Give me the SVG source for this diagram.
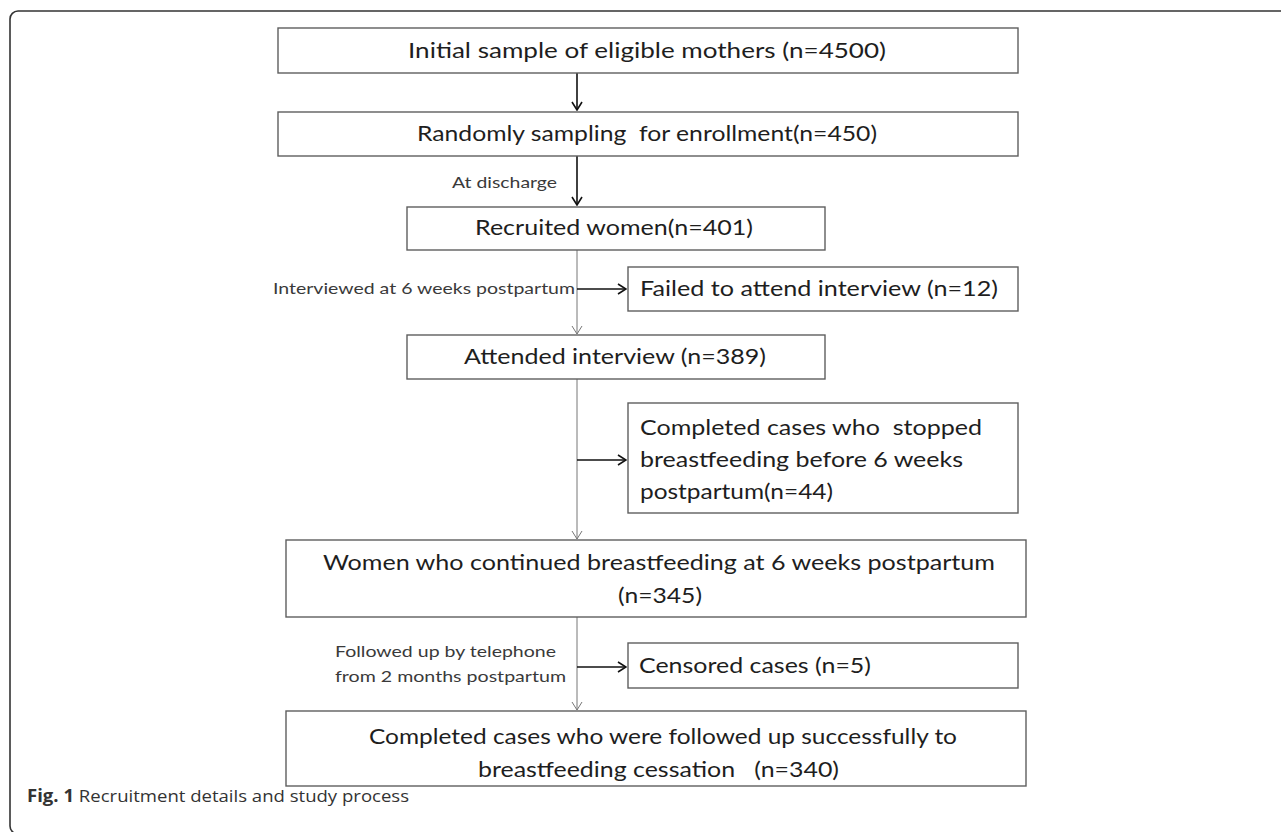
<svg xmlns="http://www.w3.org/2000/svg" width="1281" height="832" viewBox="0 0 1281 832">
<defs>
<style>
.box{fill:#fff;stroke:#5e5e5e;stroke-width:1.4}
.t{font-family:Lato,"Open Sans",sans-serif;font-size:21px;fill:#1e1e1e;white-space:pre}
.lab{font-family:Lato,"Open Sans",sans-serif;font-size:15px;fill:#3a3a3a}
.main{stroke:#111;stroke-width:1.6;fill:none}
.thin{stroke:#777;stroke-width:1;fill:none}
.cap{font-family:"Open Sans","Noto Sans",sans-serif;font-size:17px;fill:#333}
</style>
<marker id="ah" viewBox="0 0 10 12" refX="9" refY="6" markerWidth="10" markerHeight="12" markerUnits="userSpaceOnUse" orient="auto">
<path d="M1,1 L9,6 L1,11" fill="none" stroke="#111" stroke-width="1.6"/>
</marker>
<marker id="ahg" viewBox="0 0 10 12" refX="9" refY="6" markerWidth="10" markerHeight="12" markerUnits="userSpaceOnUse" orient="auto">
<path d="M1,1 L9,6 L1,11" fill="none" stroke="#777" stroke-width="1"/>
</marker>
</defs>
<rect width="1281" height="832" fill="#fff"/>
<rect x="10" y="11" width="1300" height="823" rx="8" fill="none" stroke="#333" stroke-width="1.6"/>

<g id="connectors">
<line class="main" x1="577" y1="73" x2="577" y2="110" marker-end="url(#ah)"/>
<line class="main" x1="577" y1="156" x2="577" y2="205" marker-end="url(#ah)"/>
<line class="thin" x1="577" y1="250" x2="577" y2="334" marker-end="url(#ahg)"/>
<line class="main" x1="577" y1="289" x2="626" y2="289" marker-end="url(#ah)"/>
<line class="thin" x1="577" y1="379" x2="577" y2="539" marker-end="url(#ahg)"/>
<line class="main" x1="577" y1="460" x2="626" y2="460" marker-end="url(#ah)"/>
<line class="thin" x1="577" y1="617" x2="577" y2="710" marker-end="url(#ahg)"/>
<line class="main" x1="577" y1="667" x2="626" y2="667" marker-end="url(#ah)"/>
<text class="lab" x="452" y="188" textLength="105" lengthAdjust="spacingAndGlyphs">At discharge</text>
<text class="lab" x="273" y="294" textLength="302" lengthAdjust="spacingAndGlyphs">Interviewed at 6 weeks postpartum</text>
<text class="lab" x="335" y="657" textLength="221" lengthAdjust="spacingAndGlyphs">Followed up by telephone</text>
<text class="lab" x="335" y="682" textLength="231" lengthAdjust="spacingAndGlyphs">from 2 months postpartum</text>
</g>

<g id="n1">
<rect class="box" x="278" y="28" width="740" height="45"/>
<text class="t" x="408" y="58" textLength="478" lengthAdjust="spacingAndGlyphs">Initial sample of eligible mothers (n=4500)</text>
</g>
<g id="n2">
<rect class="box" x="278" y="112" width="740" height="44"/>
<text class="t" x="417" y="141" textLength="460" lengthAdjust="spacingAndGlyphs">Randomly sampling  for enrollment(n=450)</text>
</g>
<g id="n3">
<rect class="box" x="407" y="207" width="418" height="43"/>
<text class="t" x="475" y="235" textLength="278" lengthAdjust="spacingAndGlyphs">Recruited women(n=401)</text>
</g>
<g id="n4">
<rect class="box" x="628" y="267" width="390" height="44"/>
<text class="t" x="640" y="296" textLength="358" lengthAdjust="spacingAndGlyphs">Failed to attend interview (n=12)</text>
</g>
<g id="n5">
<rect class="box" x="407" y="335" width="418" height="44"/>
<text class="t" x="464" y="364" textLength="302" lengthAdjust="spacingAndGlyphs">Attended interview (n=389)</text>
</g>
<g id="n6">
<rect class="box" x="628" y="403" width="390" height="110"/>
<text class="t" x="640" y="435" textLength="342" lengthAdjust="spacingAndGlyphs">Completed cases who  stopped</text>
<text class="t" x="640" y="467" textLength="323" lengthAdjust="spacingAndGlyphs">breastfeeding before 6 weeks</text>
<text class="t" x="640" y="499" textLength="193" lengthAdjust="spacingAndGlyphs">postpartum(n=44)</text>
</g>
<g id="n7">
<rect class="box" x="286" y="540" width="740" height="77"/>
<text class="t" x="323" y="570" textLength="672" lengthAdjust="spacingAndGlyphs">Women who continued breastfeeding at 6 weeks postpartum</text>
<text class="t" x="618" y="603" textLength="84" lengthAdjust="spacingAndGlyphs">(n=345)</text>
</g>
<g id="n8">
<rect class="box" x="628" y="643" width="390" height="45"/>
<text class="t" x="639" y="673" textLength="232" lengthAdjust="spacingAndGlyphs">Censored cases (n=5)</text>
</g>
<g id="n9">
<rect class="box" x="286" y="711" width="740" height="75"/>
<text class="t" x="369" y="744" textLength="588" lengthAdjust="spacingAndGlyphs">Completed cases who were followed up successfully to</text>
<text class="t" x="478" y="777" textLength="361" lengthAdjust="spacingAndGlyphs">breastfeeding cessation   (n=340)</text>
</g>

<text class="cap" x="27" y="802" textLength="382" lengthAdjust="spacingAndGlyphs"><tspan font-weight="bold">Fig. 1</tspan> Recruitment details and study process</text>
</svg>
